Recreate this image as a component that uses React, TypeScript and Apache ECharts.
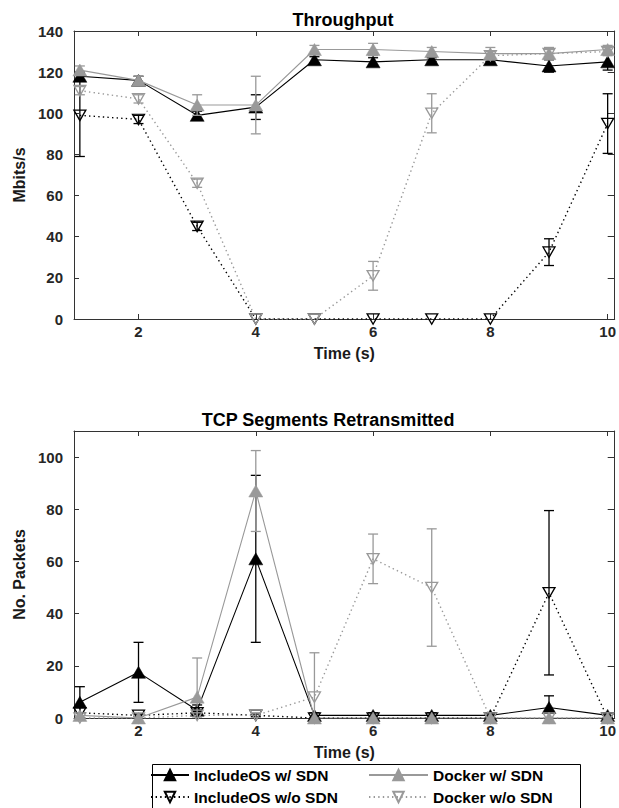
import React, { useEffect, useRef } from "react";
import * as echarts from "echarts";

const times = [1, 2, 3, 4, 5, 6, 7, 8, 9, 10];
const xTicks = [2, 4, 6, 8, 10];
const tputTicks = [0, 20, 40, 60, 80, 100, 120, 140];
const retrTicks = [0, 20, 40, 60, 80, 100];

const seriesNames = ["IncludeOS w/ SDN", "IncludeOS w/o SDN", "Docker w/ SDN", "Docker w/o SDN"];

// Throughput (Mbits/s): mean and error half-width
const tputIncSdn = [118, 116, 99, 103, 126, 125, 126, 126, 123, 125];
const tputIncSdnErr = [2, 2, 2, 6, 1.5, 2, 1, 1, 3, 4];
const tputIncNoSdn = [99, 97, 45, 0, 0, 0, 0, 0, 32.5, 95];
const tputIncNoSdnErr = [20, 2, 2, 0, 0, 0, 0, 0, 6.5, 14.5];
const tputDockSdn = [121, 116, 104, 104, 131, 131, 130, 129, 129, 131];
const tputDockSdnErr = [2, 2, 5, 14, 2, 3, 2, 3, 3, 2];
const tputDockNoSdn = [111, 107, 66, 0, 0, 21, 100, 128, 129, 130];
const tputDockNoSdnErr = [2, 2, 2, 0, 0, 7, 9.5, 2, 2, 2];

// TCP segments retransmitted (packets)
const retrIncSdn = [6, 17.5, 3, 61, 1, 1, 1, 1, 4, 1];
const retrIncSdnErr = [6, 11.5, 2, 32, 1, 1, 1, 1, 4.5, 1];
const retrIncNoSdn = [2, 1, 2, 1, 0, 0, 0, 0, 48, 0];
const retrIncNoSdnErr = [2, 0.5, 1, 0.5, 0, 0, 0, 0, 31.5, 0];
const retrDockSdn = [1, 0, 8, 87, 0, 0, 0, 0, 0, 0];
const retrDockSdnErr = [1, 0, 15, 15.5, 0, 0, 0, 0, 0, 0];
const retrDockNoSdn = [0, 0, 1, 1, 8, 61, 50, 0, 0, 0];
const retrDockNoSdnErr = [0, 0, 1, 1, 17, 9.5, 22.5, 0, 0, 0];

const FONT = "'Liberation Sans', Arial, Helvetica, sans-serif";
const BLACK = "#000000";
const GRAY = "#999999";
const AXIS = "#333333";
const DOWN_TRI = "path://M0,0 L12,0 L6,10.4 Z";

const styles = [
  { color: BLACK, dotted: false, filled: true },
  { color: BLACK, dotted: true, filled: false },
  { color: GRAY, dotted: false, filled: true },
  { color: GRAY, dotted: true, filled: false },
];

function makeSeries(idx: number, vals: number[], errs: number[], axisIdx: number) {
  const st = styles[idx];
  const line: any = {
    type: "line",
    name: seriesNames[idx],
    xAxisIndex: axisIdx,
    yAxisIndex: axisIdx,
    data: times.map((t, i) => [t, vals[i]]),
    symbol: st.filled ? "triangle" : DOWN_TRI,
    symbolSize: st.filled ? [14, 12] : [12, 10.4],
    symbolKeepAspect: false,
    showAllSymbol: true,
    z: 3 + idx,
    lineStyle: {
      color: st.color,
      width: st.dotted ? 1.4 : 1.1,
      type: st.dotted ? [1.4, 3.2] : "solid",
    },
    itemStyle: st.filled
      ? { color: st.color, borderColor: st.color, borderWidth: 0.5 }
      : { color: "rgba(255,255,255,0)", borderColor: st.color, borderWidth: 1.3 },
    emphasis: { disabled: true },
  };
  const err: any = {
    type: "custom",
    name: "err-" + axisIdx + "-" + idx,
    xAxisIndex: axisIdx,
    yAxisIndex: axisIdx,
    z: 2 + idx,
    clip: true,
    data: times.map((t, i) => [t, vals[i] - errs[i], vals[i] + errs[i], errs[i]]),
    encode: { x: 0, y: [1, 2] },
    renderItem: (params: any, api: any) => {
      const e = api.value(3);
      if (!e) return null;
      const x = api.value(0);
      const lo = api.coord([x, api.value(1)]);
      const hi = api.coord([x, api.value(2)]);
      const w = 5;
      const style = { stroke: st.color, lineWidth: 1.3, fill: null };
      return {
        type: "group",
        children: [
          { type: "line", shape: { x1: lo[0], y1: lo[1], x2: hi[0], y2: hi[1] }, style },
          { type: "line", shape: { x1: lo[0] - w, y1: lo[1], x2: lo[0] + w, y2: lo[1] }, style },
          { type: "line", shape: { x1: hi[0] - w, y1: hi[1], x2: hi[0] + w, y2: hi[1] }, style },
        ],
      };
    },
  };
  return [line, err];
}

function xAxes(gridIndex: number) {
  const common = {
    type: "value",
    gridIndex,
    min: 0.9,
    max: 10.12,
    splitLine: { show: false },
    axisLine: { show: true, onZero: false, lineStyle: { color: AXIS, width: 1 } },
  };
  return [
    {
      ...common,
      position: "bottom",
      name: "Time (s)",
      nameLocation: "middle",
      nameGap: 26,
      nameTextStyle: { fontFamily: FONT, fontWeight: "bold", fontSize: 16, color: "#1a1a1a" },
      axisTick: { show: true, inside: true, length: 5, customValues: xTicks, lineStyle: { color: AXIS } },
      axisLabel: {
        show: true,
        customValues: xTicks,
        margin: 5,
        fontFamily: FONT,
        fontWeight: "bold",
        fontSize: 15,
        color: "#262626",
      },
    },
    {
      ...common,
      position: "top",
      axisTick: { show: true, inside: true, length: 5, customValues: xTicks, lineStyle: { color: AXIS } },
      axisLabel: { show: false },
    },
  ];
}

function yAxes(gridIndex: number, max: number, ticks: number[], name: string) {
  const common = {
    type: "value",
    gridIndex,
    min: 0,
    max,
    splitLine: { show: false },
    axisLine: { show: true, onZero: false, lineStyle: { color: AXIS, width: 1 } },
  };
  return [
    {
      ...common,
      position: "left",
      name,
      nameLocation: "middle",
      nameGap: 45,
      nameTextStyle: { fontFamily: FONT, fontWeight: "bold", fontSize: 16, color: "#1a1a1a" },
      axisTick: { show: true, inside: true, length: 5, customValues: ticks, lineStyle: { color: AXIS } },
      axisLabel: {
        show: true,
        customValues: ticks,
        margin: 11,
        fontFamily: FONT,
        fontWeight: "bold",
        fontSize: 15,
        color: "#262626",
      },
    },
    {
      ...common,
      position: "right",
      axisTick: { show: true, inside: true, length: 7, customValues: ticks, lineStyle: { color: AXIS } },
      axisLabel: { show: false },
    },
  ];
}

export default function App() {
  const ref = useRef<HTMLDivElement>(null);
  useEffect(() => {
    if (!ref.current) return;
    const chart = echarts.init(ref.current, null, { renderer: "svg" });
    const legendText = { fontFamily: FONT, fontWeight: "bold", fontSize: 15.5, color: "#000", lineHeight: 15 };
    const option: any = {
      animation: false,
      backgroundColor: "#ffffff",
      title: [
        {
          text: "Throughput",
          left: 338,
          top: 6,
          textAlign: "center",
          textStyle: { fontFamily: FONT, fontWeight: "bold", fontSize: 18, color: "#000" },
        },
        {
          text: "TCP Segments Retransmitted",
          left: 323,
          top: 406,
          textAlign: "center",
          textStyle: { fontFamily: FONT, fontWeight: "bold", fontSize: 18, color: "#000" },
        },
      ],
      grid: [
        { left: 74, top: 31, width: 548, height: 288 },
        { left: 74, top: 431, width: 548, height: 287 },
      ],
      xAxis: [...xAxes(0), ...xAxes(1)],
      yAxis: [
        ...yAxes(0, 140, tputTicks, "Mbits/s"),
        ...yAxes(1, 110, retrTicks, "No. Packets"),
      ],
      legend: [
        {
          data: [seriesNames[0], seriesNames[1]],
          orient: "vertical",
          left: 150,
          top: 767,
          itemWidth: 38,
          itemHeight: 13,
          itemGap: 6,
          padding: 0,
          textStyle: legendText,
          selectedMode: false,
        },
        {
          data: [seriesNames[2], seriesNames[3]],
          orient: "vertical",
          left: 368,
          top: 767,
          itemWidth: 59,
          itemHeight: 13,
          itemGap: 6,
          padding: 0,
          textStyle: legendText,
          selectedMode: false,
        },
      ],
      graphic: [
        {
          type: "rect",
          left: 150,
          top: 762,
          shape: { x: 0, y: 0, width: 428, height: 60 },
          style: { fill: "none", stroke: "#000", lineWidth: 1 },
          z: 0,
        },
      ],
      series: [
        ...makeSeries(0, tputIncSdn, tputIncSdnErr, 0),
        ...makeSeries(1, tputIncNoSdn, tputIncNoSdnErr, 0),
        ...makeSeries(2, tputDockSdn, tputDockSdnErr, 0),
        ...makeSeries(3, tputDockNoSdn, tputDockNoSdnErr, 0),
        ...makeSeries(0, retrIncSdn, retrIncSdnErr, 2),
        ...makeSeries(1, retrIncNoSdn, retrIncNoSdnErr, 2),
        ...makeSeries(2, retrDockSdn, retrDockSdnErr, 2),
        ...makeSeries(3, retrDockNoSdn, retrDockNoSdnErr, 2),
      ],
    };
    chart.setOption(option);
    return () => chart.dispose();
  }, []);
  return (
    <div
      ref={ref}
      style={{ position: "fixed", left: 0, top: 0, width: 619, height: 808, background: "#fff" }}
    />
  );
}
